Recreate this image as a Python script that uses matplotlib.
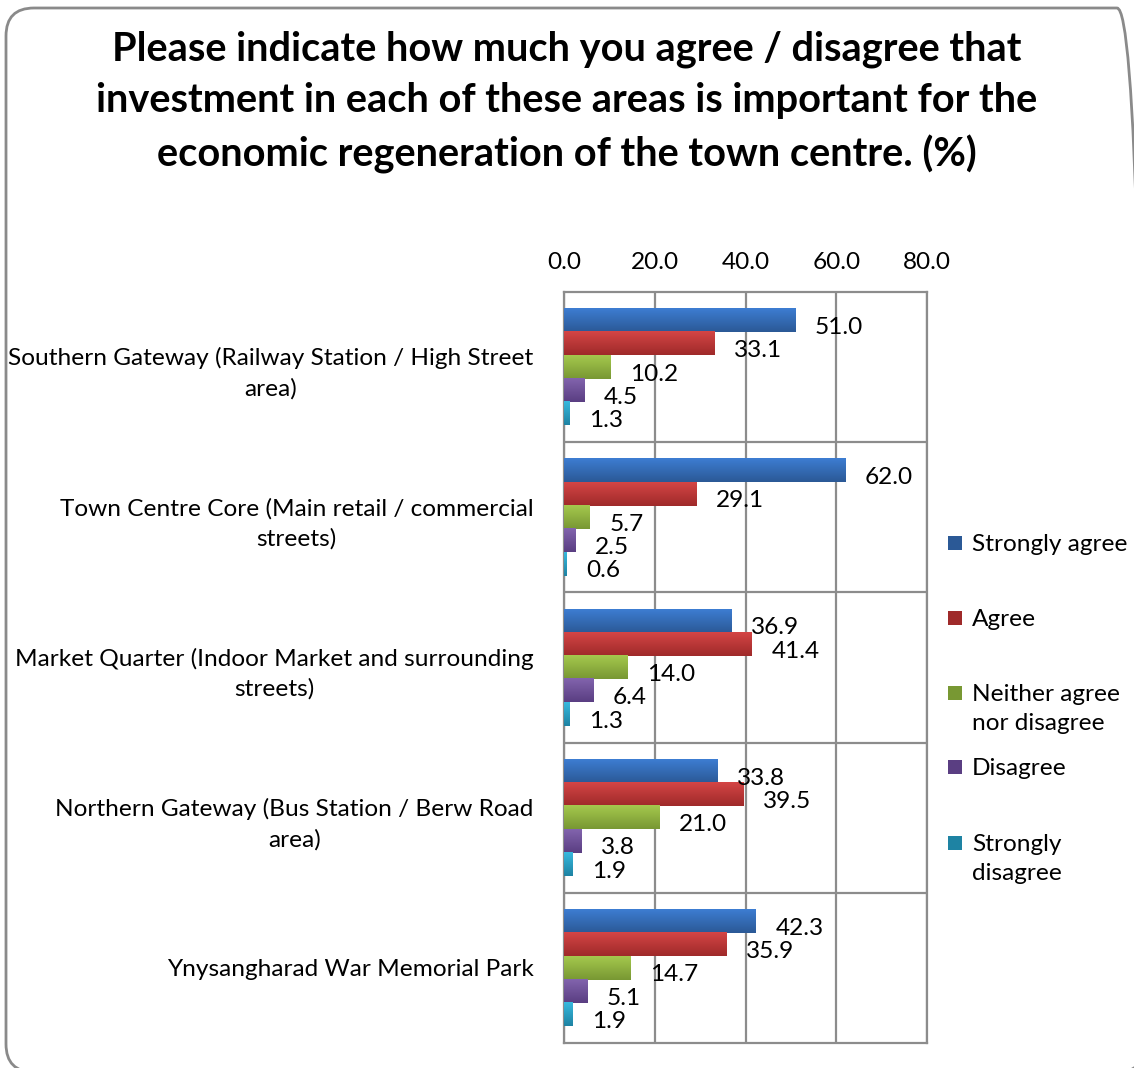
import numpy as np
import matplotlib
matplotlib.use("Agg")
import matplotlib.pyplot as plt
from matplotlib.colors import LinearSegmentedColormap
from matplotlib.patches import FancyBboxPatch, Rectangle

plt.rcParams['font.family'] = ['Lato', 'DejaVu Sans']

title = ("Please indicate how much you agree / disagree that\n"
         "investment in each of these areas is important for the\n"
         "economic regeneration of the town centre. (%)")

categories = [
    "Southern Gateway (Railway Station / High Street\narea)",
    "Town Centre Core (Main retail / commercial\nstreets)",
    "Market Quarter (Indoor Market and surrounding\nstreets)",
    "Northern Gateway (Bus Station / Berw Road\narea)",
    "Ynysangharad War Memorial Park",
]
series = ["Strongly agree", "Agree", "Neither agree\nnor disagree",
          "Disagree", "Strongly\ndisagree"]

strongly_agree = [51.0, 62.0, 36.9, 33.8, 42.3]
agree = [33.1, 29.1, 41.4, 39.5, 35.9]
neither = [10.2, 5.7, 14.0, 21.0, 14.7]
disagree = [4.5, 2.5, 6.4, 3.8, 5.1]
strongly_disagree = [1.3, 0.6, 1.3, 1.9, 1.9]
values = [strongly_agree, agree, neither, disagree, strongly_disagree]

x_ticks = [0, 20, 40, 60, 80]

# top / bottom gradient colours per series
grads = [("#3d7dd2", "#2b5996"),
         ("#d44545", "#9f2a2a"),
         ("#a5c84d", "#789833"),
         ("#8264ad", "#5a3e82"),
         ("#38b9de", "#1e83a3")]

fs = 17.6

fig = plt.figure(figsize=(11.34, 10.68), dpi=100)
ax = fig.add_axes([564 / 1134, 25 / 1068, 363 / 1134, 751 / 1068])

ypos = np.arange(len(categories))
bh = 0.155
grad = np.linspace(0, 1, 64).reshape(-1, 1)
for j, (vals, (top, bot)) in enumerate(zip(values, grads)):
    cm = LinearSegmentedColormap.from_list(f"g{j}", [top, bot])
    bars = ax.barh(ypos + (j - 2) * bh, vals, height=bh, color=bot, zorder=2)
    for b, v in zip(bars, vals):
        x0, y0, w, h = b.get_x(), b.get_y(), b.get_width(), b.get_height()
        ax.imshow(grad, extent=[x0, x0 + w, y0 + h, y0], cmap=cm,
                  aspect='auto', zorder=3, interpolation='bilinear')
        ax.annotate(f"{v:.1f}", (v, y0 + h / 2), xytext=(14, -5),
                    textcoords='offset points', ha='left', va='center',
                    fontsize=fs, color='black', zorder=5)

ax.set_xlim(0, 80)
ax.set_ylim(len(categories) - 0.5, -0.5)
ax.set_aspect('auto')
ax.xaxis.tick_top()
ax.set_xticks(x_ticks)
ax.set_xticklabels([f"{t:.1f}" for t in x_ticks], fontsize=fs)
ax.set_yticks(ypos)
ax.set_yticklabels(categories, fontsize=fs)
for lbl in ax.get_yticklabels():
    lbl.set_multialignment('center')
    lbl.set_linespacing(1.5)
ax.set_yticks(np.arange(0.5, len(categories) - 0.5, 1), minor=True)
ax.tick_params(axis='x', length=0, pad=14)
ax.tick_params(axis='y', which='both', length=0, pad=22)
ax.set_axisbelow(True)
ax.grid(axis='x', color='#8c8c8c', lw=1.6, zorder=0)
ax.grid(axis='y', which='minor', color='#8c8c8c', lw=1.6, zorder=0)
for s in ax.spines.values():
    s.set_color('#8c8c8c')
    s.set_linewidth(1.6)

fig.text(0.5, 1 - 102 / 1068, title, ha='center', va='center',
         fontsize=28.6, fontweight='bold', linespacing=1.48)

# legend
leg_y = [543, 618, 693, 767, 843]
for (top, bot), name, yy in zip(grads, series, leg_y):
    fig.patches.append(Rectangle((948 / 1134, 1 - (yy + 7) / 1068),
                                 14 / 1134, 14 / 1068, facecolor=bot,
                                 edgecolor='none', transform=fig.transFigure))
    fig.text(972 / 1134, 1 - (yy - 9) / 1068, name, ha='left', va='top',
             fontsize=fs, linespacing=1.5)

border = FancyBboxPatch((6, -4), 1139, 1066 - 6 + 4,
                        boxstyle='round,pad=0,rounding_size=28',
                        facecolor='none', edgecolor='#8a8a8a', lw=2,
                        transform=None)
fig.patches.append(border)

fig.savefig("out.png", dpi=100)
